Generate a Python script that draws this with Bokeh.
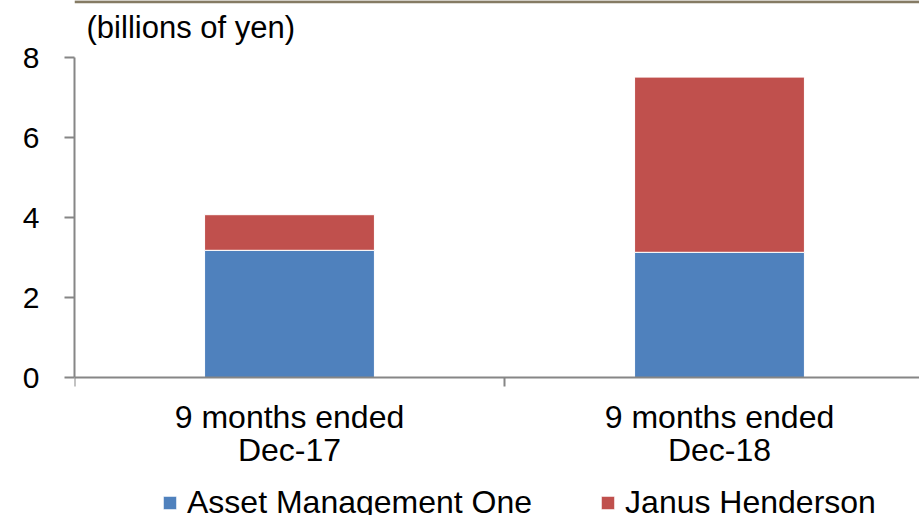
from bokeh.plotting import figure
from bokeh.models import (Range1d, FixedTicker, Legend, LegendItem, Label, Span,
                          ColumnDataSource)
from bokeh.embed import file_html
from bokeh.resources import INLINE

# ---- data ----
periods = ["9 months ended\nDec-17", "9 months ended\nDec-18"]
series = ["Asset Management One", "Janus Henderson"]
asset_management_one = [3.18, 3.13]
janus_henderson = [0.89, 4.38]
y_ticks = [0, 2, 4, 6, 8]
unit_label = "(billions of yen)"
colors = ["#4F81BD", "#C0504D"]

FONT = "Liberation Sans"
AXIS_GREY = "#868686"

x_pos = [i + 0.5 for i in range(len(periods))]
boundaries = [i for i in range(len(periods) + 1)]
source = ColumnDataSource(dict(x=x_pos, amo=asset_management_one, jh=janus_henderson))

PX = 40.0  # pixels per billion yen
p = figure(frame_width=845, frame_height=515, output_backend="svg", toolbar_location=None,
           x_range=Range1d(0, 845 / 430), y_range=Range1d(-138 / PX, 377 / PX),
           min_border_left=74, min_border_right=0, min_border_top=0,
           min_border_bottom=0)
p.outline_line_color = None
p.grid.visible = False
p.background_fill_color = "white"
p.border_fill_color = "white"

renderers = p.vbar_stack(["amo", "jh"], x="x", width=0.395, source=source,
                         fill_color=colors, line_color="white", line_width=1)

# x axis (drawn at y = 0)
xa = p.xaxis[0]
xa.fixed_location = 0
xa.ticker = FixedTicker(ticks=x_pos, minor_ticks=boundaries)
xa.major_label_overrides = {x: lab for x, lab in zip(x_pos, periods)}
xa.major_tick_out = 0
xa.major_tick_in = 0
xa.minor_tick_out = 9
xa.minor_tick_in = 0
xa.minor_tick_line_color = AXIS_GREY
xa.minor_tick_line_width = 2
xa.axis_line_color = AXIS_GREY
xa.axis_line_width = 2
xa.major_label_text_font = FONT
xa.major_label_text_font_size = "32px"
xa.major_label_text_line_height = 0.93
xa.major_label_text_color = "black"
xa.major_label_standoff = 12

# y axis
ya = p.yaxis[0]
ya.ticker = FixedTicker(ticks=y_ticks)
ya.bounds = (0, 8)
ya.major_tick_out = 10
ya.major_tick_in = 0
ya.minor_tick_line_color = None
ya.major_tick_line_color = AXIS_GREY
ya.major_tick_line_width = 2
ya.axis_line_color = AXIS_GREY
ya.axis_line_width = 2
ya.major_label_text_font = FONT
ya.major_label_text_font_size = "30px"
ya.major_label_text_color = "black"
ya.major_label_standoff = 25

# unit label
p.add_layout(Label(x=0.028, y=8.74, text=unit_label, text_font=FONT,
                   text_font_size="31px", text_baseline="alphabetic",
                   text_color="black"))

# top rule
p.add_layout(Span(location=9.395, dimension="width", line_color="#857b64",
                  line_width=3))

legend = Legend(items=[LegendItem(label=s, renderers=[r]) for s, r in zip(series, renderers)],
                orientation="horizontal", location=(87, -6),
                border_line_color=None, background_fill_alpha=0, padding=0, margin=0,
                glyph_width=17, glyph_height=17, label_standoff=9, spacing=67,
                label_text_font=FONT, label_text_font_size="32px",
                label_text_color="black")
p.add_layout(legend, "center")

open("out.html", "w").write(file_html(p, INLINE))
